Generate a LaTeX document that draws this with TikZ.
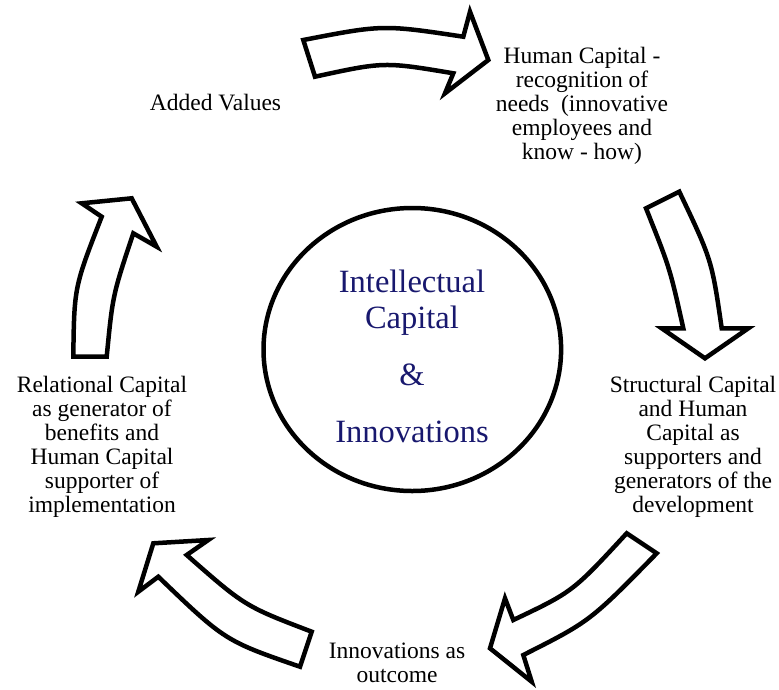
\documentclass[tikz,border=0pt]{standalone}
\usepackage{fontspec}
\setmainfont{Liberation Serif}
\usetikzlibrary{shapes.geometric}
\definecolor{icnavy}{RGB}{24,24,110}

\begin{document}
\begin{tikzpicture}[x=1pt,y=-1pt]
   \tikzstyle{every node}=[align=center,inner sep=0pt,font=\fontsize{23.5}{24}\selectfont]
   \tikzstyle{blockarrow}=[draw,fill=white,line width=4.5pt,line join=miter]
\useasboundingbox (0,0) rectangle (779,689);

\node[ellipse,draw,line width=4.5pt,minimum width=297.6pt,minimum height=283pt] (ic) at (412.3,349.5) {};
\node[text=icnavy,font=\fontsize{32.5}{36}\selectfont] (ictext) at (412,356)
   {Intellectual\\Capital\\[21pt]\&\\[21pt]Innovations};

\node (added) at (215.5,103) {Added Values};
\node (human) at (582,106) {Human Capital -\\recognition of\\needs~ (innovative\\employees and\\know - how)};
\node (structural) at (693,447) {Structural Capital\\and Human\\Capital as\\supporters and\\generators of the\\development};
\node (innov) at (397,663) {Innovations as\\outcome};
\node (relational) at (102,447) {Relational Capital\\as generator of\\benefits and\\Human Capital\\supporter of\\implementation};

\draw[blockarrow] (303.3,40) .. controls (382.9,24.6) .. (463.3,36.7) -- (470,11.7) -- (488.3,60)
   -- (445,93.3) -- (453.3,73.3) .. controls (384,61.7) .. (315,76.7) -- cycle;
\draw[blockarrow] (679.3,191.7) .. controls (711.8,260) .. (721.7,328.3) -- (748.3,328.3) -- (705,358.3)
   -- (661.7,328.3) -- (683.3,328.3) .. controls (669.8,267.9) .. (646,208.3) -- cycle;
\draw[blockarrow] (656.7,553.3) .. controls (590,621.3) .. (523.3,655) -- (531.7,681.7) -- (490,648.3)
   -- (505,598.3) -- (513.3,620) .. controls (572.7,591.8) .. (626.7,533.3) -- cycle;
\draw[blockarrow] (300,666.7) .. controls (225,640.8) .. (158.3,576.7) -- (138.3,591.7) -- (153.3,543.3)
   -- (208.3,540) -- (186.7,555) .. controls (244.9,606.2) .. (311.7,631.7) -- cycle;
\draw[blockarrow] (106.7,356.7) .. controls (112.7,295) .. (133.3,233.3) -- (156.7,246.7) -- (131.7,198.3)
   -- (81.7,203.3) -- (101.7,216.7) .. controls (74.2,287.1) .. (73.3,356.7) -- cycle;

\end{tikzpicture}
\end{document}
